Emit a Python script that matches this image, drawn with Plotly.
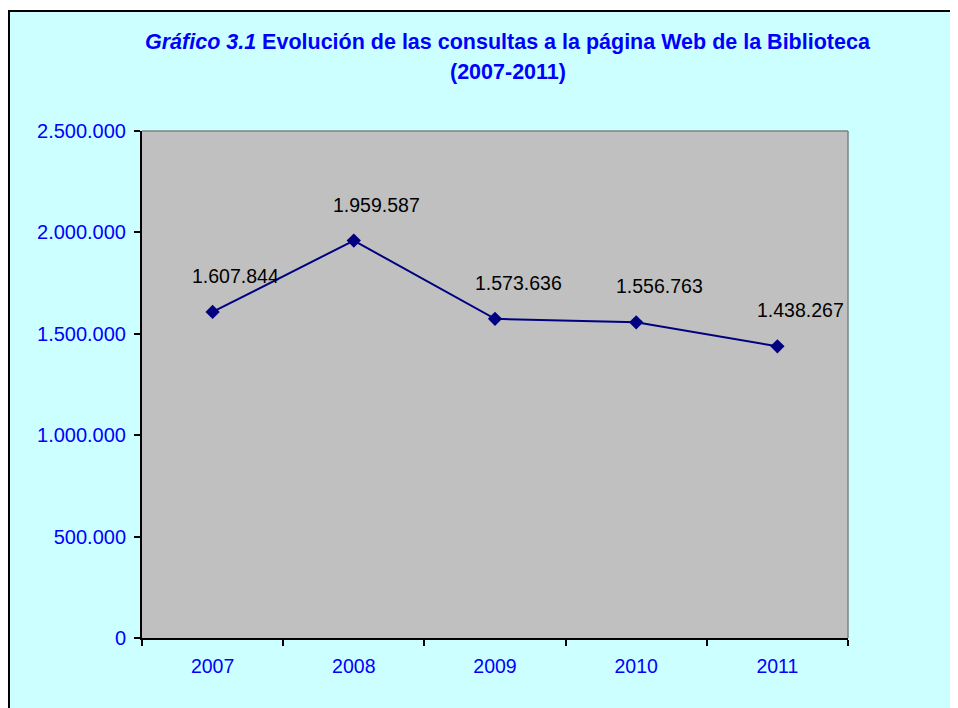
import plotly.graph_objects as go

years = ["2007", "2008", "2009", "2010", "2011"]
consultas = [1607844, 1959587, 1573636, 1556763, 1438267]
value_labels = ["1.607.844", "1.959.587", "1.573.636", "1.556.763", "1.438.267"]
y_tick_vals = [0, 500000, 1000000, 1500000, 2000000, 2500000]
y_tick_text = ["0", "500.000", "1.000.000", "1.500.000", "2.000.000", "2.500.000"]
title_line1 = "<b><i>Gráfico 3.1</i> Evolución de las consultas a la página Web de la Biblioteca</b>"
title_line2 = "<b>(2007-2011)</b>"

# page body has an 8px margin; figure coordinates are screen coordinates minus 8
W, H = 950, 700
L, T = 134, 123
R, B = W - 840, H - 630
PW, PH = W - L - R, H - T - B

def px_x(p):
    return (p - L) / PW

def px_y(p):
    return 1 + (T - p) / PH

FONT = "Liberation Sans, Arial, sans-serif"
BLUE = "#0000FF"

fig = go.Figure()
fig.add_trace(go.Scatter(
    x=years, y=consultas, mode="lines+markers",
    line=dict(color="#000080", width=2),
    marker=dict(symbol="diamond", size=11, color="#000080"),
    hoverinfo="skip", showlegend=False,
))

annotations = []
for i, (yv, t) in enumerate(zip(consultas, value_labels)):
    annotations.append(dict(x=i, y=yv, xref="x", yref="y", text=t, showarrow=False,
                            xanchor="center", yanchor="middle",
                            xshift=23, yshift=36, font=dict(family=FONT, size=19.5, color="black")))
annotations.append(dict(x=px_x(500), y=px_y(34), xref="paper", yref="paper", text=title_line1,
                        showarrow=False, xanchor="center", yanchor="middle",
                        font=dict(family=FONT, size=21.5, color=BLUE)))
annotations.append(dict(x=px_x(500), y=px_y(64), xref="paper", yref="paper", text=title_line2,
                        showarrow=False, xanchor="center", yanchor="middle",
                        font=dict(family=FONT, size=21.5, color=BLUE)))

shapes = [
    # white strip above the chart-area border
    dict(type="rect", xref="paper", yref="paper", x0=px_x(-5), x1=px_x(W + 5), y0=px_y(2), y1=px_y(-5),
         fillcolor="white", line=dict(width=0), layer="above"),
    # black chart-area border (top and left)
    dict(type="line", xref="paper", yref="paper", x0=px_x(1), x1=px_x(W + 5), y0=px_y(3), y1=px_y(3),
         line=dict(color="black", width=2), layer="above"),
    dict(type="line", xref="paper", yref="paper", x0=px_x(1), x1=px_x(1), y0=px_y(2), y1=px_y(H + 5),
         line=dict(color="black", width=2), layer="above"),
    # gray top/right plot border
    dict(type="line", xref="paper", yref="paper", x0=0, x1=1, y0=1, y1=1,
         line=dict(color="#808080", width=1.5), layer="above"),
    dict(type="line", xref="paper", yref="paper", x0=1, x1=1, y0=0, y1=1,
         line=dict(color="#808080", width=1.5), layer="above"),
]

fig.update_layout(
    width=W, height=H,
    margin=dict(l=L, r=R, t=T, b=B, pad=0),
    paper_bgcolor="#CCFFFF",
    plot_bgcolor="#C0C0C0",
    annotations=annotations,
    shapes=shapes,
    showlegend=False,
    font=dict(family=FONT),
)
fig.update_xaxes(
    type="category", range=[-0.5, 4.5], tickson="boundaries",
    ticks="outside", ticklen=6, tickwidth=2, tickcolor="black",
    showline=True, linecolor="black", linewidth=2, showgrid=False, zeroline=False,
    tickfont=dict(family=FONT, size=19.5, color=BLUE), ticklabelstandoff=10,
)
fig.update_yaxes(
    range=[0, 2500000], tickvals=y_tick_vals, ticktext=y_tick_text,
    ticks="outside", ticklen=6, tickwidth=2, tickcolor="black",
    showline=True, linecolor="black", linewidth=2, showgrid=False, zeroline=False,
    tickfont=dict(family=FONT, size=20, color=BLUE), ticklabelstandoff=4,
)

fig.write_html("out.html")
